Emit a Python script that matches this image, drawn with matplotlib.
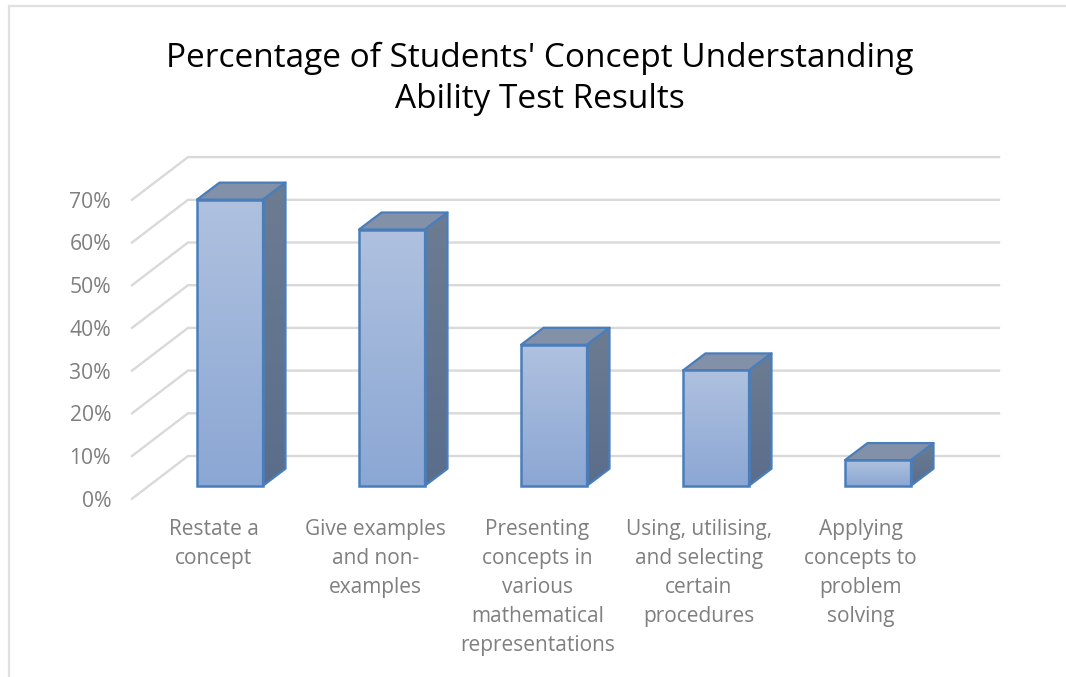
import numpy as np
import matplotlib
matplotlib.use("Agg")
import matplotlib.pyplot as plt
from matplotlib.patches import Polygon, Rectangle
from matplotlib.colors import LinearSegmentedColormap

categories = ["Restate a\nconcept", "Give examples\nand non-\nexamples",
              "Presenting\nconcepts in\nvarious\nmathematical\nrepresentations",
              "Using, utilising,\nand selecting\ncertain\nprocedures",
              "Applying\nconcepts to\nproblem\nsolving"]
values = [67, 60, 33, 27, 6]
ticks = [0, 10, 20, 30, 40, 50, 60, 70]
title = "Percentage of Students' Concept Understanding\nAbility Test Results"

EDGE = "#4a7ebb"
GRID = "#d9d9d9"
TEXT = "#7f7f7f"
FONT = "Open Sans"

W, H = 1066, 677
BAR_STEP = 162.0    # px per category
PX_PCT = 4.27       # px per percent
X0, Y0 = 230.0, 485.7   # px of first bar centre / bar base

front_cm = LinearSegmentedColormap.from_list("front", ["#afc1df", "#8ba7d4"])
side_cm = LinearSegmentedColormap.from_list("side", ["#6c7c92", "#5a6d8b"])

fig = plt.figure(figsize=(W / 100, H / 100), dpi=100, facecolor="white")
ax = fig.add_axes([0, 0, 1, 1])
# axes fills the figure, limits put category 0 / value 0 at the front of the first bar
ax.set_xlim(-X0 / BAR_STEP, (W - X0) / BAR_STEP)
ax.set_ylim((Y0 - H) / PX_PCT, Y0 / PX_PCT)
ax.axis("off")

def dx(px):
    return px / BAR_STEP

def dy(px):
    return px / PX_PCT

# frame of the picture
ax.plot([dx(8.5 - X0), dx(8.5 - X0), dx(W - X0)], [dy(Y0 - H), dy(Y0 - 6), dy(Y0 - 6)],
        color="#e0e0e0", lw=1.6, solid_capstyle="butt", solid_joinstyle="miter")

# walls: floor diagonal + back line per tick
wall_left = dx(188 - X0)
wall_right = dx(999 - X0)
back_up = dy(29.7)
for t in ticks:
    ax.plot([dx(132 - X0), wall_left, wall_right], [t - dy(13), t + back_up, t + back_up],
            color=GRID, lw=1.7, zorder=1, solid_joinstyle="miter")
    ax.text(dx(111 - X0), t - dy(13), "%d%%" % t, ha="right", va="center_baseline",
            color=TEXT, fontsize=15.2, family=FONT)

# bars
xs = np.arange(len(values))
bw = 66 / BAR_STEP
ddx, ddy = dx(22.5), dy(17)
grad = np.linspace(0, 1, 256).reshape(-1, 1)
bars = ax.bar(xs, values, width=bw, color="none", edgecolor=EDGE, linewidth=1.8, zorder=5)
for x, v, bar in zip(xs, values, bars):
    l, r = x - bw / 2, x + bw / 2
    top = Polygon([(l, v), (r, v), (r + ddx, v + ddy), (l + ddx, v + ddy)], closed=True,
                  facecolor="#8291a8", edgecolor=EDGE, lw=1.6, zorder=3, joinstyle="round")
    ax.add_patch(top)
    im = ax.imshow(grad, extent=[l, r, 0, v], cmap=front_cm, aspect="auto", origin="upper", zorder=4)
    im.set_clip_path(Rectangle((l, 0), bw, v, transform=ax.transData))
    side = Polygon([(r, 0), (r + ddx, ddy), (r + ddx, v + ddy), (r, v)], closed=True,
                   facecolor="none", edgecolor=EDGE, lw=1.6, zorder=4, joinstyle="round")
    ax.add_patch(side)
    im2 = ax.imshow(grad, extent=[r, r + ddx, 0, v + ddy], cmap=side_cm, aspect="auto",
                    origin="upper", zorder=3)
    im2.set_clip_path(side)
ax.set_xlim(-X0 / BAR_STEP, (W - X0) / BAR_STEP)
ax.set_ylim((Y0 - H) / PX_PCT, Y0 / PX_PCT)

# category labels
label_x = [213.7, 375.7, 537.3, 698.8, 860.5]
for lx, c in zip(label_x, categories):
    ax.text(dx(lx - X0), dy(Y0 - 519), c, ha="center", va="top", color=TEXT,
            fontsize=15, family=FONT, linespacing=1.5)

ax.text(dx(540 - X0), dy(Y0 - 42), title, ha="center", va="top", color="black",
        fontsize=24, family=FONT, linespacing=1.3)

fig.savefig("out.png", dpi=100)
